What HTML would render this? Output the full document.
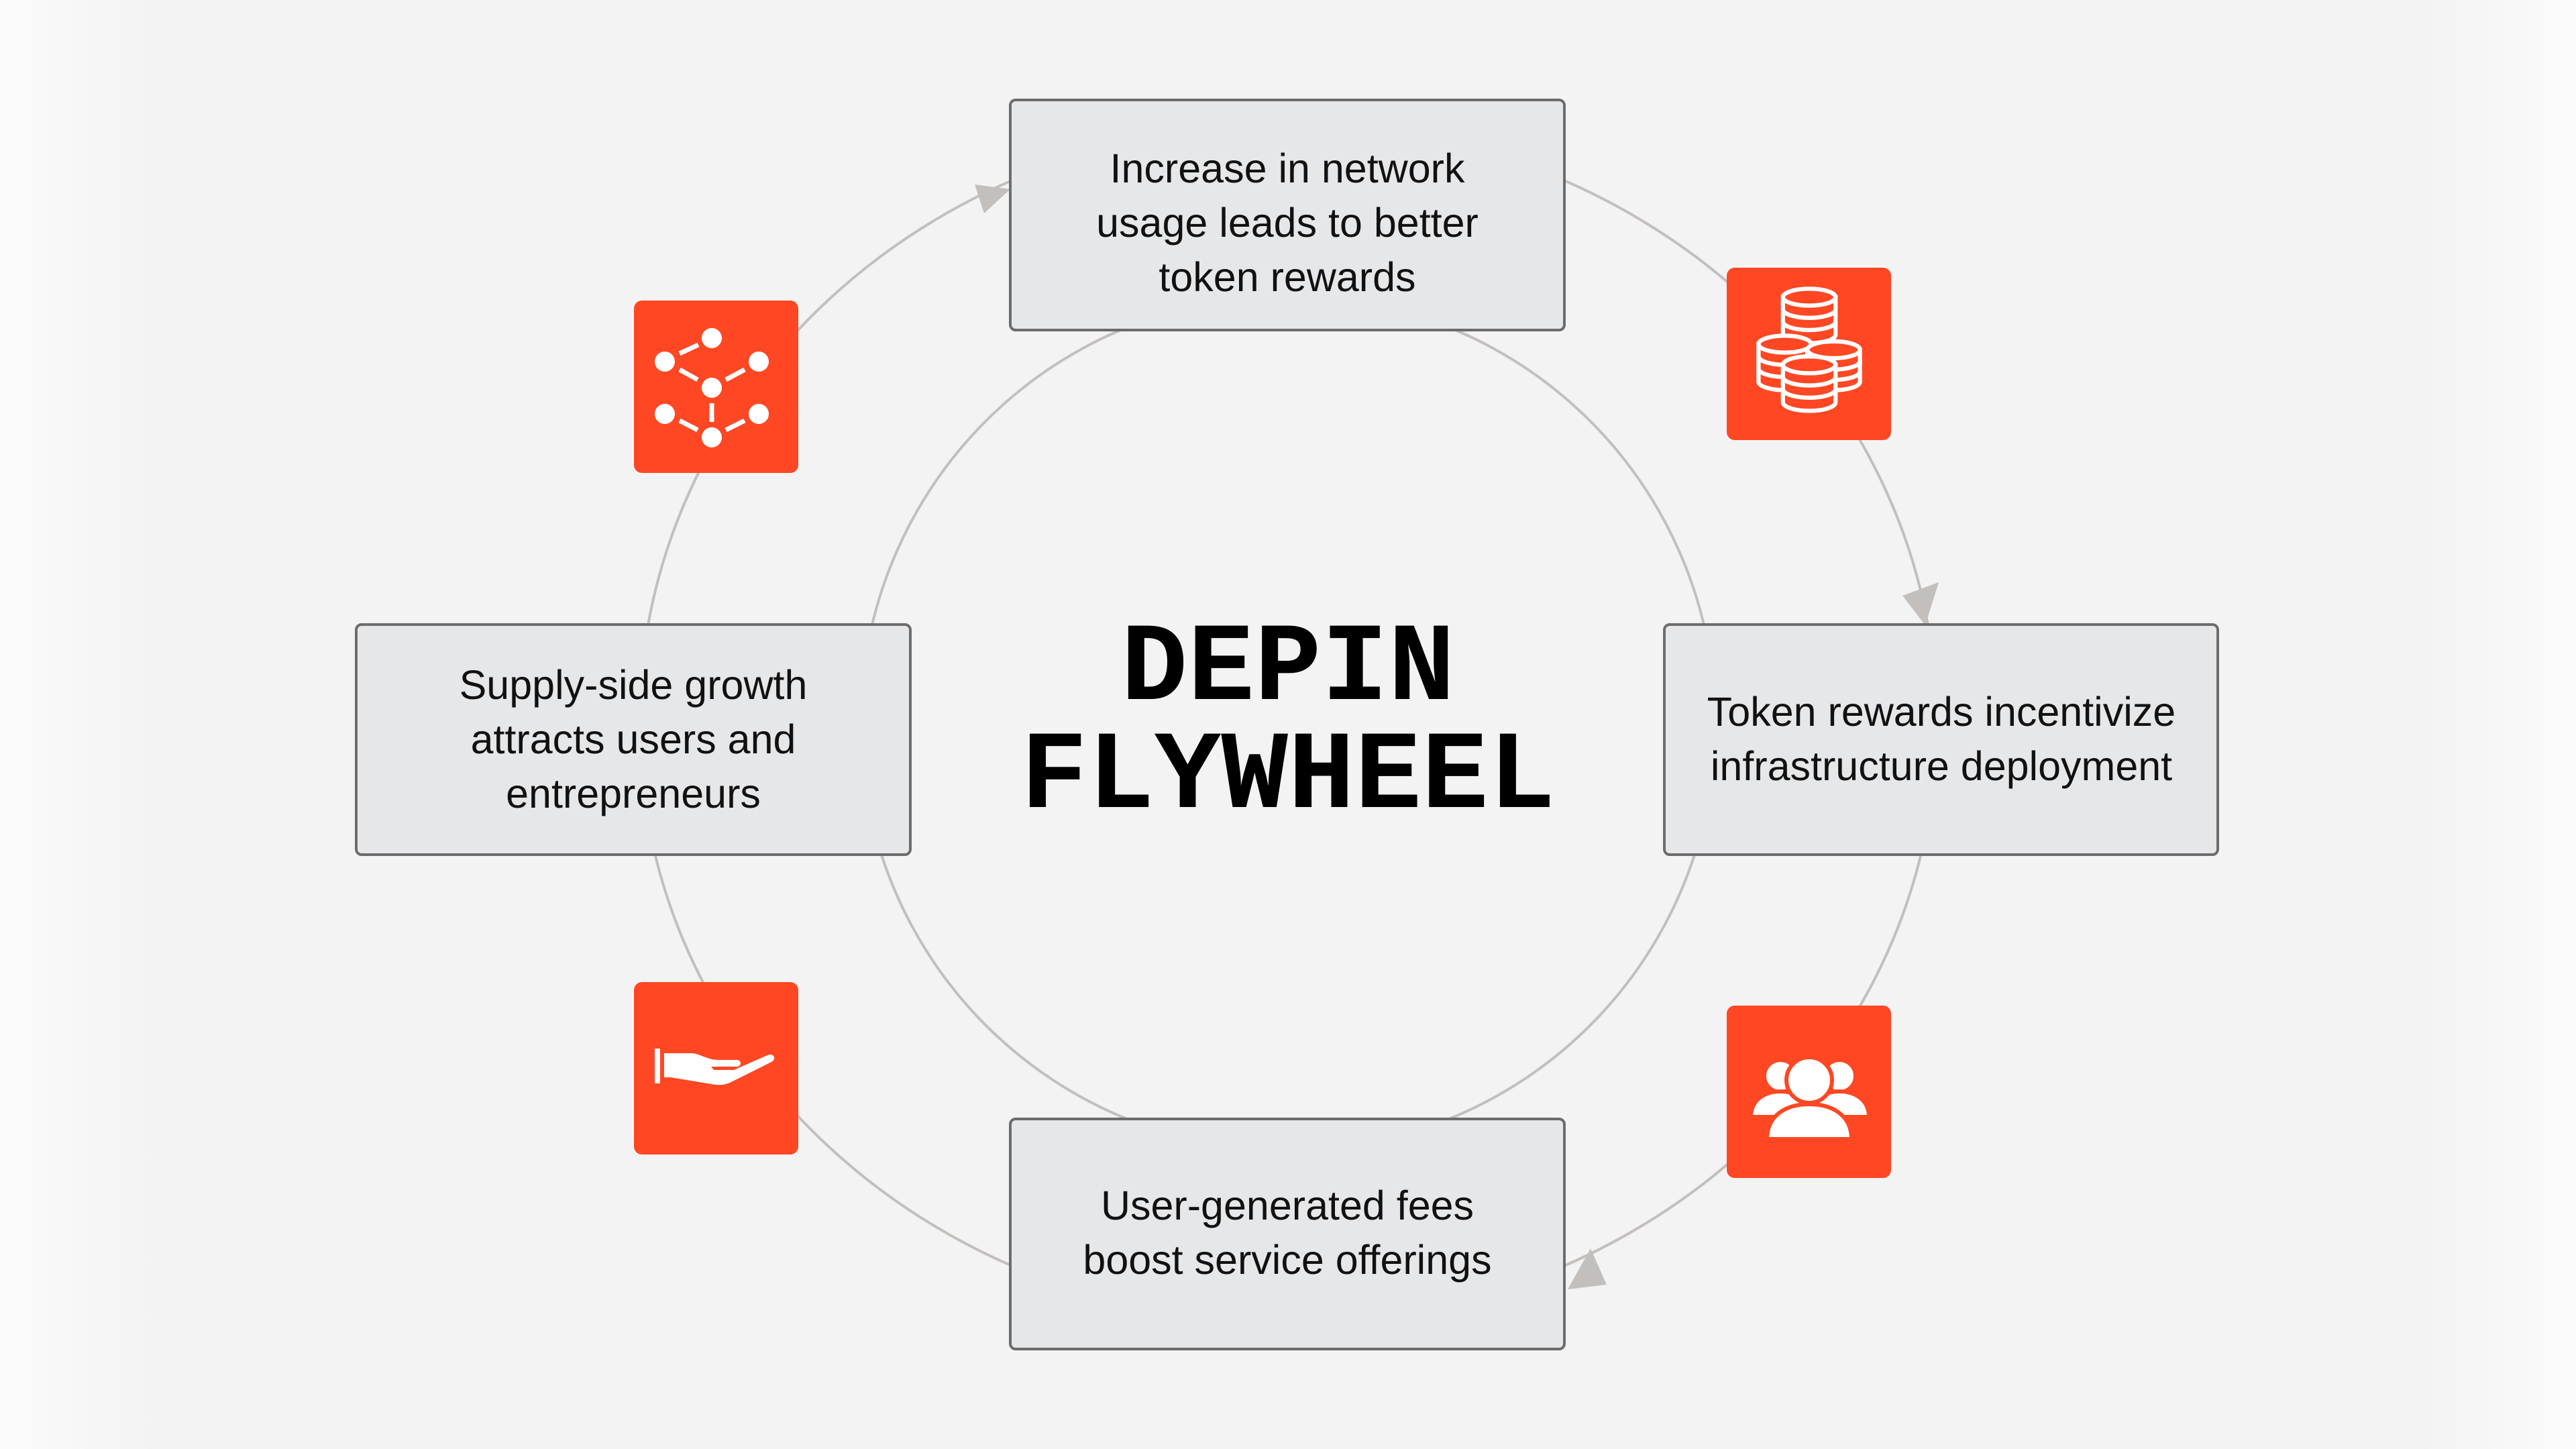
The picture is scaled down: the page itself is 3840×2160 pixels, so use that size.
<!DOCTYPE html>
<html><head><meta charset="utf-8"><style>
html,body{margin:0;padding:0;width:3840px;height:2160px;overflow:hidden;background:#f3f3f3}
svg{display:block}
text{font-family:"Liberation Sans",sans-serif}
text.t{font-family:"Liberation Mono",monospace;font-weight:bold}
</style></head><body>
<svg width="3840" height="2160" viewBox="0 0 3840 2160" xmlns="http://www.w3.org/2000/svg">
<defs>
<linearGradient id="lg" x1="0" x2="1" y1="0" y2="0">
<stop offset="0" stop-color="#fbfbfb"/><stop offset="0.06" stop-color="#f3f3f3"/><stop offset="0.94" stop-color="#f3f3f3"/><stop offset="1" stop-color="#fbfbfb"/>
</linearGradient>
</defs>
<rect width="3840" height="2160" fill="url(#lg)"/>
<g fill="none" stroke="#c3bfbd" stroke-width="4">
<circle cx="1920" cy="1078" r="637"/>
<ellipse cx="1920" cy="1078" rx="967" ry="894"/>
</g>
<g fill="#c3bfbd">
<polygon points="1506,282 1453,275 1467,318"/>
<polygon points="2870,932 2836,888 2890,868"/>
<polygon points="2337,1922 2395,1915 2371,1861"/>
</g>
<g fill="#e6e7e9" stroke="#6c6c6c" stroke-width="4">
<rect x="1506" y="149" width="826" height="343" rx="8"/>
<rect x="2481" y="931" width="825" height="343" rx="8"/>
<rect x="531" y="931" width="826" height="343" rx="8"/>
<rect x="1506" y="1668" width="826" height="343" rx="8"/>
</g>
<g font-size="61" fill="#111" text-anchor="middle">
<text x="1919" y="272">Increase in network</text>
<text x="1919" y="353">usage leads to better</text>
<text x="1919" y="434">token rewards</text>
<text x="2894" y="1082">Token rewards incentivize</text>
<text x="2894" y="1163">infrastructure deployment</text>
<text x="944" y="1042">Supply-side growth</text>
<text x="944" y="1123">attracts users and</text>
<text x="944" y="1204">entrepreneurs</text>
<text x="1919" y="1818">User-generated fees</text>
<text x="1919" y="1899">boost service offerings</text>
</g>
<g font-size="166" fill="#000" text-anchor="middle">
<text class="t" x="1920" y="1042">DEPIN</text>
<text class="t" x="1920" y="1203">FLYWHEEL</text>
</g>
<g fill="#ff4723">
<rect x="945" y="448" width="245" height="257" rx="12"/>
<rect x="2574" y="399" width="245" height="257" rx="12"/>
<rect x="2574" y="1499" width="245" height="257" rx="12"/>
<rect x="945" y="1464" width="245" height="257" rx="12"/>
</g>
<g fill="#fff" stroke="#fff">
<g stroke="none">
<circle cx="1061" cy="504" r="15"/><circle cx="991" cy="539" r="15"/><circle cx="1131" cy="539" r="15"/>
<circle cx="1061" cy="578" r="15"/><circle cx="991" cy="617" r="15"/><circle cx="1131" cy="617" r="15"/><circle cx="1061" cy="652" r="15"/>
</g>
<g stroke-width="7">
<line x1="1013" y1="527" x2="1041" y2="514"/><line x1="1013" y1="551" x2="1040" y2="566"/><line x1="1082" y1="566" x2="1110" y2="551"/>
<line x1="1061" y1="601" x2="1061" y2="629"/><line x1="1013" y1="627" x2="1040" y2="641"/><line x1="1082" y1="641" x2="1110" y2="627"/>
</g>
</g>
<g fill="#ff4723" stroke="#fff" stroke-width="4.5" transform="translate(2697,527) scale(1.4) translate(-2697,-520)">
<g transform="translate(2697,460)"><path d="M-28 0v40a28 9 0 0 0 56 0v-40z"/><ellipse rx="28" ry="9"/><path d="M-28 13a28 9 0 0 0 56 0M-28 26a28 9 0 0 0 56 0" fill="none"/></g>
<g transform="translate(2671,510)"><path d="M-28 0v40a28 9 0 0 0 56 0v-40z"/><ellipse rx="28" ry="9"/><path d="M-28 13a28 9 0 0 0 56 0M-28 26a28 9 0 0 0 56 0" fill="none"/></g>
<g transform="translate(2723,516)"><path d="M-28 0v34a28 9 0 0 0 56 0v-34z"/><ellipse rx="28" ry="9"/><path d="M-28 12a28 9 0 0 0 56 0M-28 23a28 9 0 0 0 56 0" fill="none"/></g>
<g transform="translate(2697,532)"><path d="M-28 0v40a28 9 0 0 0 56 0v-40z"/><ellipse rx="28" ry="9"/><path d="M-28 13a28 9 0 0 0 56 0M-28 26a28 9 0 0 0 56 0" fill="none"/></g>
</g>
<g fill="#fff" stroke="#ff4723" stroke-width="6">
<circle cx="2654" cy="1604" r="24"/><path d="M2610 1665c0-25 20-38 44-38s44 13 44 38z"/>
<circle cx="2742" cy="1604" r="24"/><path d="M2698 1665c0-25 20-38 44-38s44 13 44 38z"/>
<circle cx="2697" cy="1610" r="34"/><path d="M2634 1698c0-35 28-52 63-52s63 17 63 52z"/>
</g>
<g fill="#fff">
<rect x="976" y="1563" width="8" height="52"/>
<path d="M990 1570h40c12 0 25 10 40 10h28c8 0 8 10 0 10h-38l4 5h30l50-22c10-4 14 6 6 10l-60 30c-10 5-20 5-30 3l-60-10h-10z"/>
</g>
</svg>
</body></html>
